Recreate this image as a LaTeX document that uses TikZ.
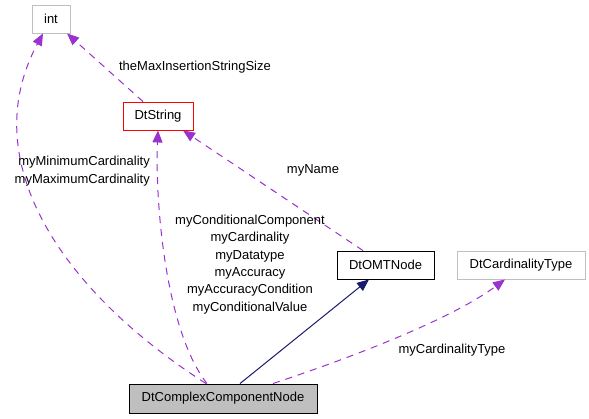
\documentclass[tikz,border=0pt]{standalone}
\usepackage{fontspec}
\setmainfont{Liberation Sans}
\usetikzlibrary{arrows.meta}
\definecolor{edgepurple}{HTML}{9A32CD}
\definecolor{edgenavy}{HTML}{191970}
\definecolor{boxgrey}{HTML}{BFBFBF}
\begin{document}
\begin{tikzpicture}[x=1pt,y=-1pt,font=\fontsize{13pt}{17.4pt}\selectfont,
	cls/.style={draw=#1,line width=0.9pt,minimum height=28pt,inner sep=0pt},
	cls/.default=black,
	use/.style={edgepurple,dashed,dash pattern=on 7pt off 6pt,line width=1pt,-{Triangle[length=12pt,width=10pt]}},
	inherit/.style={edgenavy,line width=1pt,-{Triangle[length=12pt,width=10pt]}},
	lbl/.style={inner sep=0pt,align=center}]
	\useasboundingbox (0,0) rectangle (589,419);
	\node[cls=boxgrey,minimum width=38pt] (int) at (51,19) {int};
	\node[cls=red,text=black,minimum width=70pt] (str) at (158,116) {DtString};
	\node[cls,minimum width=97pt] (omt) at (385.5,265) {DtOMTNode};
	\node[cls=boxgrey,minimum width=128pt] (card) at (521,265) {DtCardinalityType};
	\node[cls,fill=boxgrey,minimum width=188pt,minimum height=29pt] (ccn) at (223,398.5) {DtComplexComponentNode};
	% edges
	\draw[use] (ccn.north -| 206,0) .. controls (60,290) and (-25,160) .. (int.south -| 43,0);
	\draw[use] (ccn.north -| 207,0) .. controls (165,330) and (155,200) .. (str.south -| 158,0);
	\draw[use] (str.north -| 143,0) -- (int.south -| 67,0);
	\draw[use] (omt.north -| 363,0) -- (str.south -| 183,0);
	\draw[inherit] (ccn.north -| 240,0) -- (omt.south -| 369,0);
	\draw[use] (ccn.north -| 273,0) .. controls (350,358) and (450,320) .. (card.south -| 505,0);
	% labels
	\node[lbl] (lmax) at (195,67) {theMaxInsertionStringSize};
	\node[lbl] (lname) at (313,170) {myName};
	\node[lbl,align=right,anchor=east] (lminmax) at (150,171) {myMinimumCardinality\\myMaximumCardinality};
	\node[lbl] (lcomp) at (250,264.5) {myConditionalComponent\\myCardinality\\myDatatype\\myAccuracy\\myAccuracyCondition\\myConditionalValue};
	\node[lbl] (lctype) at (452,350) {myCardinalityType};
\end{tikzpicture}
\end{document}
